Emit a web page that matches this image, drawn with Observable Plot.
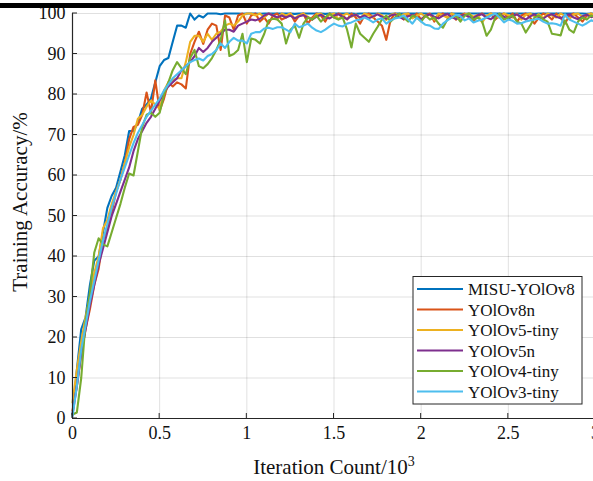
<!DOCTYPE html>
<html><head><meta charset="utf-8">
<script src="https://cdn.jsdelivr.net/npm/d3@7"></script>
<script src="https://cdn.jsdelivr.net/npm/@observablehq/plot@0.6"></script>
<style>
html,body{margin:0;padding:0;background:#fff;overflow:hidden;}
#wrap{position:relative;width:593px;height:481px;overflow:hidden;background:#fff;}
#bar{position:absolute;left:0;top:3px;width:593px;height:5px;background:#000;}
</style></head><body>
<div id="wrap"><div id="chart"></div><div id="bar"></div></div>
<script>
// Iteration count (x 10^3), sampled every 25 iterations
const iterStepK = 0.025;
const seriesNames = ["MISU-YOlOv8", "YOlOv8n", "YOlOv5-tiny", "YOlOv5n", "YOlOv4-tiny", "YOlOv3-tiny"];
const seriesColors = ["#0072BD", "#D95319", "#EDB120", "#7E2F8E", "#77AC30", "#4DBEEE"];
const xTicks = [0, 0.5, 1, 1.5, 2, 2.5, 3];
const yTicks = [0, 10, 20, 30, 40, 50, 60, 70, 80, 90, 100];

const misuYolov8 = [
  1, 12, 22, 25, 33, 39, 40, 46, 52, 55,
  57, 61, 65, 71, 71, 73, 76.5, 77.5, 79, 83,
  87, 88.5, 89, 93, 97, 97, 96.5, 100, 98.5, 99.5,
  99, 100, 100, 100, 99.8, 100, 100, 100, 100, 99.9,
  100, 100, 100, 99.9, 100, 100, 100, 100, 100, 100,
  100, 99.9, 100, 100, 100, 100, 100, 100, 99.9, 100,
  100, 100, 100, 100, 100, 99.9, 100, 100, 100, 100,
  100, 100, 100, 99.9, 100, 100, 100, 100, 100, 100,
  100, 100, 99.9, 100, 100, 100, 100, 100, 100, 100,
  99.9, 100, 100, 100, 100, 100, 100, 100, 100, 99.9,
  100, 100, 100, 100, 100, 100, 99.9, 100, 100, 100,
  100, 100, 100, 100, 100, 100, 100, 100, 99.9, 100,
  100
];
const yolov8n = [
  2, 8, 16, 22, 27, 33, 37, 44, 47, 51,
  56, 59, 63, 69, 72, 72.5, 75, 80.5, 75.5, 83.5,
  76, 79, 83, 82, 83, 82.5, 81.5, 90, 93, 95.5,
  92.5, 96, 97.5, 97, 91, 99.5, 99, 96, 99.5, 100,
  97.5, 99.5, 100, 98, 99, 97.5, 99.5, 100, 98.5, 99,
  100, 98, 99.5, 100, 97.5, 99, 100, 99.5, 98, 100,
  99, 100, 99.5, 98.5, 100, 99, 97.5, 99.5, 100, 99,
  98, 97, 93.5, 98.5, 100, 99.5, 98.5, 100, 99, 100,
  98.5, 99.5, 100, 98, 99.5, 100, 99, 100, 98.5, 99.5,
  100, 99, 98, 99.5, 100, 99, 100, 98.5, 99.5, 100,
  99, 100, 98, 99.5, 100, 99, 97.5, 99, 100, 99.5,
  98.5, 100, 99, 97.5, 99.5, 100, 99, 98, 99.5, 100,
  99
];
const yolov5tiny = [
  4, 12, 19, 25, 30, 36, 40, 47, 49, 53,
  56, 59, 63, 67, 70, 74, 75, 77, 78.5, 77.5,
  76.5, 81, 83, 83.5, 84, 84, 88, 93, 94.5, 94.5,
  93, 95, 93.5, 95, 95.5, 97, 97.5, 97, 98, 99.5,
  100, 100, 99.5, 100, 99, 100, 99.5, 98.5, 100, 99.5,
  100, 98.8, 99.6, 100, 99.2, 98.5, 99.8, 100, 99, 99.7,
  100, 98.6, 99.5, 100, 99.2, 99.8, 98.7, 100, 99.5, 99,
  100, 99.6, 98.4, 99.7, 100, 99.3, 99.8, 100, 98.8, 99.5,
  100, 99.2, 99.8, 98.5, 100, 99.5, 99, 100, 99.6, 98.6,
  99.8, 100, 99.2, 99.7, 97.8, 99.4, 100, 99.5, 98.9, 100,
  99.6, 99, 100, 98.5, 99.7, 100, 99.3, 99.8, 98.8, 100,
  99.5, 99, 100, 99.4, 98.6, 99.8, 100, 99.2, 99.7, 100,
  99.5
];
const yolov5n = [
  1, 8, 16, 22, 28, 33, 38, 42, 46, 50,
  53, 56, 59, 62, 66, 69, 71, 73, 74.5, 76.5,
  78.5, 80.5, 82, 83, 84, 86, 87, 88, 89.5, 91.5,
  90.5, 91.5, 93, 94, 95, 96, 96, 95.5, 97, 97.5,
  98, 98.5, 98.3, 98.7, 99.5, 100, 99.5, 99, 99.5, 99,
  99.5, 98.8, 99.3, 99.6, 99, 98.5, 99.2, 99.7, 99, 98.8,
  99.5, 99.8, 99.2, 98.6, 99.4, 99.7, 99, 99.5, 98.8, 99.3,
  99.8, 99.2, 98.7, 99.5, 99.8, 99.1, 98.6, 99.3, 99.7, 99,
  98.5, 99.4, 99.8, 99.2, 98.8, 99.5, 99.9, 99.1, 98.6, 99.3,
  99.7, 99.2, 98.9, 99.6, 99.8, 99, 98.6, 99.4, 99.8, 99.2,
  98.7, 99.4, 99.8, 99, 98.5, 99.3, 99.8, 99.1, 98.7, 99.5,
  99.8, 99.2, 98.8, 99.4, 99.8, 99, 98.6, 99.3, 99.7, 99.1,
  99.4
];
const yolov4tiny = [
  1, 1.5, 10, 24, 31, 41, 44.5, 43, 42.5, 46,
  49.5, 53, 57, 60.5, 60, 66, 72, 75, 75.5, 74.5,
  75.5, 80, 83, 86, 88, 86.5, 85, 89, 91, 87,
  86.5, 87.5, 89, 91, 93.5, 98.3, 89.5, 90, 91, 95,
  88, 93.8, 93.5, 92.6, 95, 98.3, 98.7, 98.5, 97.5, 92.6,
  96, 97, 94, 97.5, 99, 98.5, 99.5, 98, 99, 100,
  99, 98.5, 99, 96, 91.6, 97.5, 95, 94, 93, 95,
  96.7, 98.5, 99.5, 98, 99, 100, 99, 98, 99.5, 99,
  98, 99.5, 98.5, 99, 97.5, 96.5, 98.5, 99, 99.5, 98,
  99.5, 100, 98.5, 99, 98, 94.5, 96, 99, 100, 98.5,
  99, 99.5, 98, 97.5, 95.3, 97, 99, 99.5, 98.5, 98,
  95, 94.8, 94.6, 98.3, 96, 95.3, 98, 99, 98.5, 99.5,
  99
];
const yolov3tiny = [
  0.5, 8, 17, 23, 29, 34, 39, 44, 48, 52,
  55.5, 59, 62, 65, 68, 70.5, 72.5, 74.5, 76, 77.5,
  79, 81, 82.5, 84, 85, 86, 87, 88, 88.5, 88.9,
  88.4, 89.5, 90, 91, 92.6, 91.5, 93, 94, 93.3, 93.3,
  92.6, 95, 95.4, 95.4, 96.3, 96.5, 96.2, 96.6, 96.6, 96,
  95.4, 97.5, 96.6, 97, 97.5, 96.5, 95.8, 95.4, 96, 96.8,
  97.5, 97, 96.8, 97.5, 97.8, 98.3, 98.5, 99, 98.5, 97.8,
  98.5, 98.8, 97.5, 98.3, 98.8, 99, 99.5, 98.5, 97.5, 99,
  98, 97.2, 97, 96.3, 96.2, 97.5, 98.3, 99, 99.7, 99.3,
  98.3, 98.8, 97.8, 98.2, 98.5, 99, 99.5, 100, 99, 97.8,
  98.5, 98.2, 97.5, 97.6, 98, 98.3, 98.5, 98.7, 98, 97.5,
  97.6, 97.4, 97, 99.8, 98.5, 98, 97.5, 97, 97.6, 98.3,
  98
];

const seriesValues = [misuYolov8, yolov8n, yolov5tiny, yolov5n, yolov4tiny, yolov3tiny];
const rows = [];
seriesValues.forEach((vals, s) => vals.forEach((v, i) => rows.push({x: i * iterStepK, y: v, name: seriesNames[s]})));

const ink = "#262626";
const gridStyle = {stroke: "#000", strokeOpacity: 0.12, strokeWidth: 1};
const chart = Plot.plot({
  width: 593, height: 481,
  marginLeft: 72, marginTop: 13, marginBottom: 63, marginRight: 0,
  style: {fontFamily: "'Liberation Serif', 'Times New Roman', serif", fontSize: "18px", color: "#111", background: "#fff", overflow: "hidden"},
  x: {domain: [0, 3], range: [72, 595], label: null},
  y: {domain: [0, 100], range: [418, 13], label: null},
  color: {domain: seriesNames, range: seriesColors},
  marks: [
    Plot.gridX(xTicks, gridStyle),
    Plot.gridY(yTicks, gridStyle),
    Plot.line(rows, {x: "x", y: "y", z: "name", stroke: "name", strokeWidth: 2.1, strokeLinejoin: "round"}),
    Plot.axisX(xTicks, {tickSize: 0, tickPadding: 8, tickFormat: d => String(d), fontSize: 18}),
    Plot.axisY(yTicks, {tickSize: 0, tickPadding: 7, tickFormat: d => String(d), fontSize: 18}),
    Plot.ruleX([0], {stroke: ink, strokeWidth: 1.2}),
    Plot.ruleY([0], {stroke: ink, strokeWidth: 1.2})
  ]
});
document.getElementById("chart").appendChild(chart);

const svg = d3.select(chart);
const font = "'Liberation Serif', 'Times New Roman', serif";
// inward ticks
const xs = v => 72 + v / 3 * 523;
const ys = v => 418 - v / 100 * 405;
const tg = svg.append("g").attr("stroke", ink).attr("stroke-width", 1);
xTicks.forEach(t => tg.append("line").attr("x1", xs(t)).attr("x2", xs(t)).attr("y1", 418).attr("y2", 413));
yTicks.forEach(t => tg.append("line").attr("x1", 72).attr("x2", 77).attr("y1", ys(t)).attr("y2", ys(t)));

// axis titles
const xl = svg.append("text").attr("x", 334).attr("y", 474).attr("text-anchor", "middle")
  .attr("font-family", font).attr("font-size", 21).attr("fill", "#111");
xl.append("tspan").text("Iteration Count/10");
xl.append("tspan").attr("dy", -8).attr("font-size", 14).text("3");
svg.append("text").attr("transform", "translate(27,202) rotate(-90)").attr("text-anchor", "middle")
  .attr("font-family", font).attr("font-size", 21).attr("fill", "#111").text("Training Accuracy/%");

// legend
const lg = svg.append("g").attr("text-anchor", "start");
lg.append("rect").attr("x", 413).attr("y", 276.5).attr("width", 169).attr("height", 127.5)
  .attr("fill", "#fff").attr("stroke", ink).attr("stroke-width", 1);
seriesNames.forEach((n, i) => {
  const yy = 289 + i * 20.5;
  lg.append("line").attr("x1", 417).attr("x2", 463).attr("y1", yy).attr("y2", yy)
    .attr("stroke", seriesColors[i]).attr("stroke-width", 2.1);
  lg.append("text").attr("x", 468).attr("y", yy + 6).attr("text-anchor", "start")
    .attr("font-family", font).attr("font-size", 17).attr("fill", "#111").text(n);
});
</script>
</body></html>
